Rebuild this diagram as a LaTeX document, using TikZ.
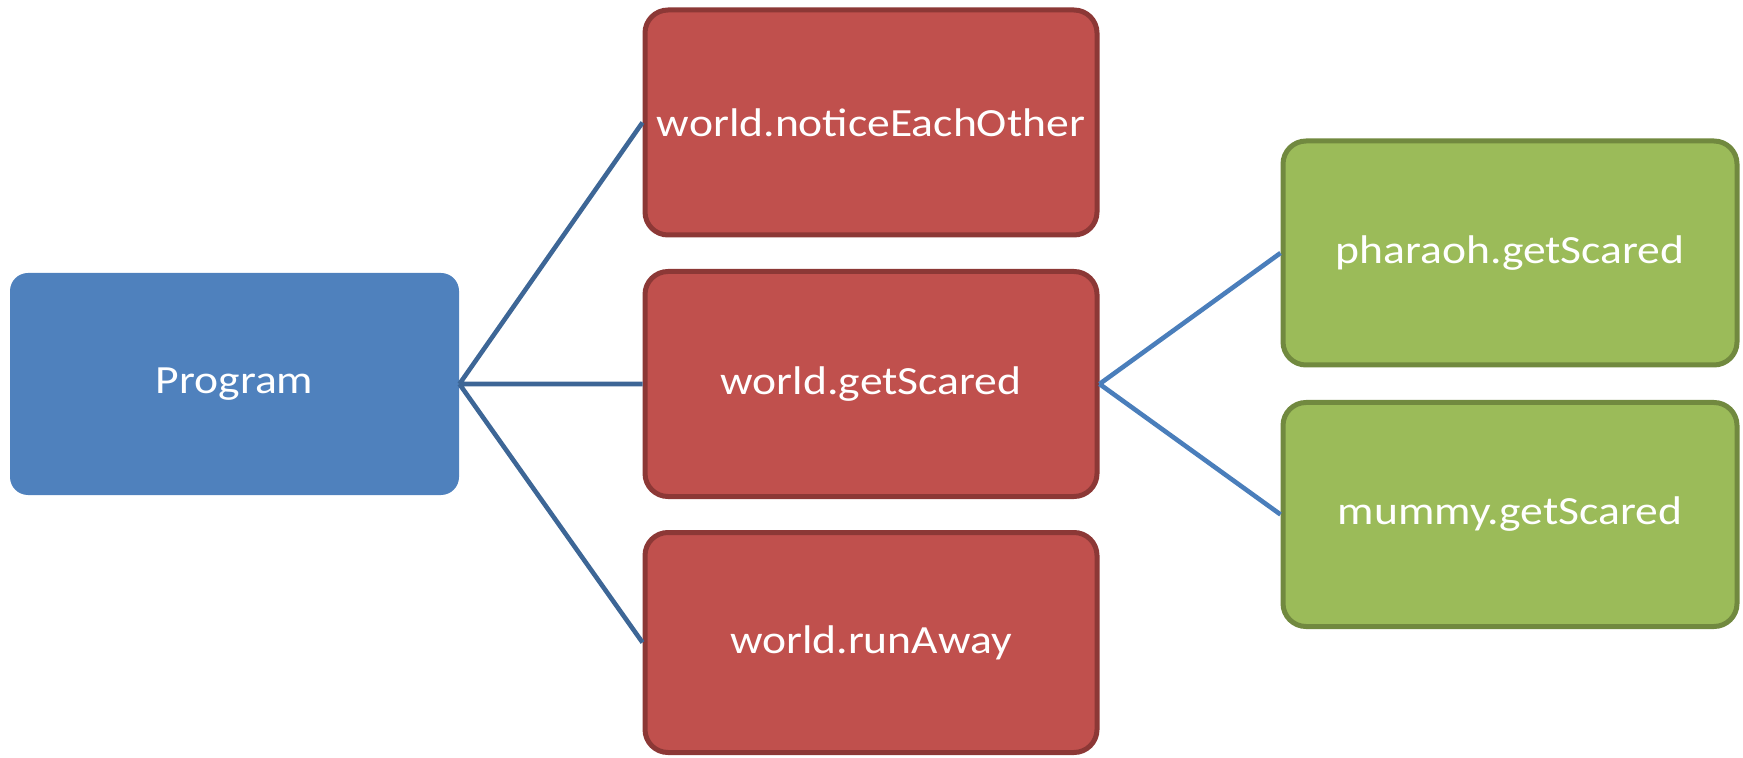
\documentclass[tikz,border=0pt]{standalone}
\usepackage{fontspec}
\setmainfont[FakeStretch=1.14]{Carlito}
\definecolor{progblue}{HTML}{4F81BD}
\definecolor{worldred}{HTML}{C0504D}
\definecolor{worldedge}{HTML}{8C3836}
\definecolor{actorgreen}{HTML}{9BBB59}
\definecolor{actoredge}{HTML}{71893F}
\definecolor{linkdark}{HTML}{3D6696}
\definecolor{linklight}{HTML}{4A7EBB}

\begin{document}
\begin{tikzpicture}[x=0.5pt,y=-0.5pt,
  box/.style={text=white,font=\fontsize{20}{24}\selectfont,inner sep=2pt},
  prog/.style={box,fill=progblue,rounded corners=9pt,minimum width=224.5pt,minimum height=111pt},
  world/.style={box,fill=worldred,draw=worldedge,line width=2.5pt,rounded corners=11.5pt,minimum width=226pt,minimum height=112.5pt},
  actor/.style={box,fill=actorgreen,draw=actoredge,line width=2.5pt,rounded corners=11.5pt,minimum width=227pt,minimum height=112pt},
  link/.style={line width=2.3pt,linkdark}]
\useasboundingbox (0,0) rectangle (1743,758);
\node[prog] (program) at (234.5,384) {Program};
\node[world] (notice) at (871,122.5) {world.noticeEachOther};
\node[world] (scared) at (871,384) {world.getScared};
\node[world,minimum height=110pt] (runaway) at (871,642.5) {world.runAway};
\node[actor] (pharaoh) at (1510,253) {pharaoh.getScared};
\node[actor] (mummy) at (1510,514.5) {mummy.getScared};
\draw[link] (program.east)--(notice.west)
(program.east)--(scared.west)
(program.east)--(runaway.west);
\draw[link,linklight] (scared.east)--(pharaoh.west)
(scared.east)--(mummy.west);
\end{tikzpicture}
\end{document}
